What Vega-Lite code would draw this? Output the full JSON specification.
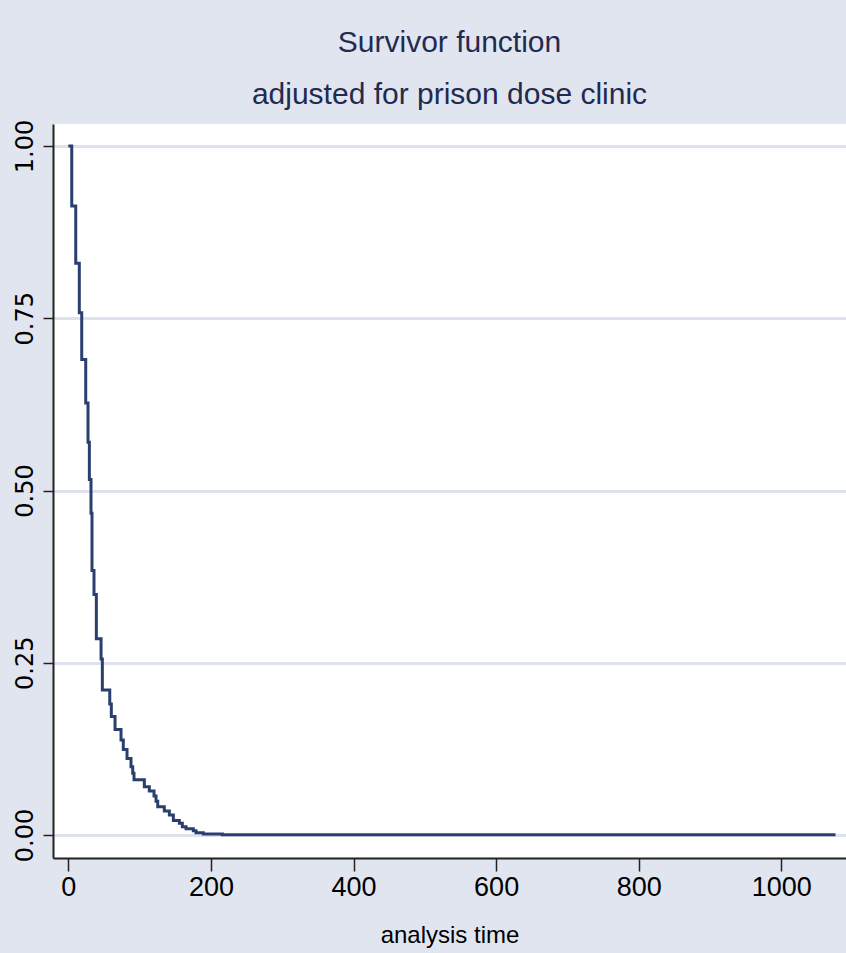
{
  "$schema": "https://vega.github.io/schema/vega-lite/v6.json",
  "width": 793,
  "height": 734,
  "autosize": {"type": "none"},
  "padding": {"left": 53, "top": 124, "right": 0, "bottom": 95},
  "background": "#e1e5f0",
  "title": {
    "text": ["Survivor function", "adjusted for prison dose clinic"],
    "font": "Liberation Sans, Arial, sans-serif",
    "fontSize": 30,
    "fontWeight": "normal",
    "color": "#1f2b4f",
    "anchor": "middle",
    "frame": "group",
    "baseline": "alphabetic",
    "lineHeight": 52,
    "offset": -15
  },
  "config": {
    "view": {"fill": "white", "stroke": null}
  },
  "data": {
    "values": [
      {"time": 0, "surv": 1.0},
      {"time": 4.8, "surv": 0.913},
      {"time": 10.4, "surv": 0.83},
      {"time": 15.4, "surv": 0.758},
      {"time": 18.8, "surv": 0.69},
      {"time": 24.4, "surv": 0.627},
      {"time": 27.6, "surv": 0.57},
      {"time": 29.5, "surv": 0.516},
      {"time": 31.8, "surv": 0.467},
      {"time": 33.2, "surv": 0.384},
      {"time": 36.0, "surv": 0.349},
      {"time": 39.3, "surv": 0.285},
      {"time": 45.9, "surv": 0.2555},
      {"time": 47.7, "surv": 0.2105},
      {"time": 58.1, "surv": 0.19},
      {"time": 60.3, "surv": 0.172},
      {"time": 65.5, "surv": 0.153},
      {"time": 73.9, "surv": 0.138},
      {"time": 77.1, "surv": 0.124},
      {"time": 82.3, "surv": 0.111},
      {"time": 87.9, "surv": 0.099},
      {"time": 90.3, "surv": 0.0895},
      {"time": 92.1, "surv": 0.08},
      {"time": 106.6, "surv": 0.07},
      {"time": 113.6, "surv": 0.064},
      {"time": 120.2, "surv": 0.0566},
      {"time": 123.0, "surv": 0.049},
      {"time": 125.4, "surv": 0.041},
      {"time": 134.6, "surv": 0.035},
      {"time": 141.7, "surv": 0.029},
      {"time": 147.3, "surv": 0.021},
      {"time": 155.7, "surv": 0.017},
      {"time": 159.9, "surv": 0.012},
      {"time": 165.1, "surv": 0.009},
      {"time": 175.3, "surv": 0.006},
      {"time": 179.1, "surv": 0.0034},
      {"time": 189.3, "surv": 0.0015},
      {"time": 216.0, "surv": 0.0004},
      {"time": 1076.0, "surv": 0.0004}
    ]
  },
  "mark": {
    "type": "line",
    "interpolate": "step-after",
    "color": "#2a3f6e",
    "strokeWidth": 3,
    "clip": true
  },
  "encoding": {
    "x": {
      "field": "time",
      "type": "quantitative",
      "scale": {"domain": [-21.5, 1090.7], "nice": false, "zero": false},
      "axis": {
        "title": "analysis time",
        "values": [0, 200, 400, 600, 800, 1000],
        "format": "d",
        "grid": false,
        "domainColor": "#222222",
        "domainWidth": 2,
        "tickColor": "#222222",
        "tickWidth": 1.5,
        "tickSize": 13,
        "labelFont": "Liberation Sans, Arial, sans-serif",
        "labelFontSize": 27,
        "labelColor": "#000000",
        "labelPadding": 3,
        "titleFont": "Liberation Sans, Arial, sans-serif",
        "titleFontSize": 24,
        "titleFontWeight": "normal",
        "titleColor": "#000000",
        "titlePadding": 23
      }
    },
    "y": {
      "field": "surv",
      "type": "quantitative",
      "scale": {"domain": [-0.0334, 1.032], "nice": false, "zero": false},
      "axis": {
        "title": null,
        "values": [0, 0.25, 0.5, 0.75, 1],
        "format": ".2f",
        "grid": true,
        "gridColor": "#dde2ee",
        "gridWidth": 3,
        "domainColor": "#222222",
        "domainWidth": 2,
        "tickColor": "#222222",
        "tickWidth": 1.5,
        "tickSize": 10,
        "labelAngle": 270,
        "labelAlign": "center",
        "labelBaseline": "bottom",
        "labelFont": "DejaVu Sans, sans-serif",
        "labelFontSize": 24,
        "labelColor": "#000000",
        "labelPadding": 6
      }
    }
  }
}
